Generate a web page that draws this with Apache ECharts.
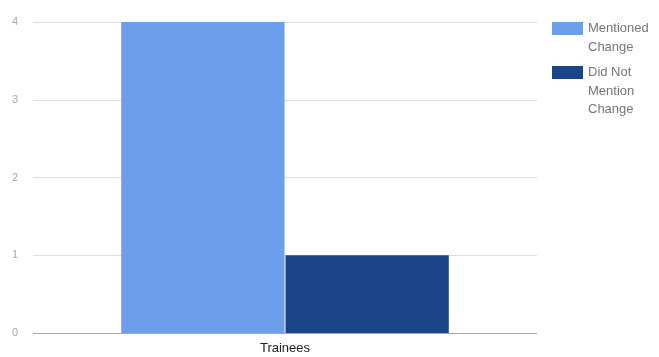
<!DOCTYPE html>
<html>
<head>
<meta charset="utf-8">
<script src="https://cdn.jsdelivr.net/npm/echarts@6/dist/echarts.min.js"></script>
<style>
html, body { margin: 0; padding: 0; background: #fff; }
#chart { width: 659px; height: 357px; }
</style>
</head>
<body>
<div id="chart"></div>
<script>
var categories = ['Trainees'];
var seriesNames = ['Mentioned Change', 'Did Not Mention Change'];
var legendLabels = ['Mentioned\nChange', 'Did Not\nMention\nChange'];
var mentioned = [4];
var notMentioned = [1];
var yTicks = [0, 1, 2, 3, 4];

var chart = echarts.init(document.getElementById('chart'));

var lineH = 18.5;
var legendIconCenters = [28.5, 72.5];

// one legend per item so the swatch can sit on the first text line
function makeLegend(i) {
    var lines = legendLabels[i].split('\n').length;
    // pad with blank lines above so the first visible line is centred on the swatch
    var label = new Array(lines).join('\n') + legendLabels[i];
    var blockH = (2 * lines - 1) * lineH;
    return {
        orient: 'vertical',
        left: 552,
        top: legendIconCenters[i] - blockH / 2,
        padding: 0,
        itemWidth: 31,
        itemHeight: 13,
        itemGap: 5,
        icon: 'rect',
        selectedMode: false,
        textStyle: { fontFamily: 'Liberation Sans, Arial', fontSize: 13, color: '#777', lineHeight: lineH },
        formatter: function () { return label; },
        data: [seriesNames[i]]
    };
}

var option = {
    animation: false,
    grid: { left: 33, right: 122, top: 22, bottom: 24, containLabel: false },
    legend: [makeLegend(0), makeLegend(1)],
    xAxis: {
        type: 'category',
        data: categories,
        axisTick: { show: false },
        axisLine: { show: false },
        axisLabel: { fontFamily: 'Liberation Sans, Arial', fontSize: 13, color: '#222', margin: 9 }
    },
    yAxis: {
        type: 'value',
        min: 0,
        max: 4,
        interval: 1,
        axisLabel: { fontFamily: 'Liberation Sans, Arial', fontSize: 11, color: '#aaa', margin: 15 },
        splitLine: { lineStyle: { color: '#e0e0e0', width: 1 } },
        axisLine: { show: false },
        axisTick: { show: false }
    },
    series: [
        {
            name: seriesNames[0],
            type: 'bar',
            data: mentioned,
            barGap: '0.6%',
            barCategoryGap: '35%',
            itemStyle: { color: '#6d9eeb' }
        },
        {
            name: seriesNames[1],
            type: 'bar',
            data: notMentioned,
            itemStyle: { color: '#1c4587' },
            markLine: {
                silent: true,
                symbol: 'none',
                label: { show: false },
                lineStyle: { color: '#aaa', type: 'solid', width: 1 },
                data: [{ yAxis: yTicks[0] }]
            }
        }
    ]
};
chart.setOption(option);
</script>
</body>
</html>
